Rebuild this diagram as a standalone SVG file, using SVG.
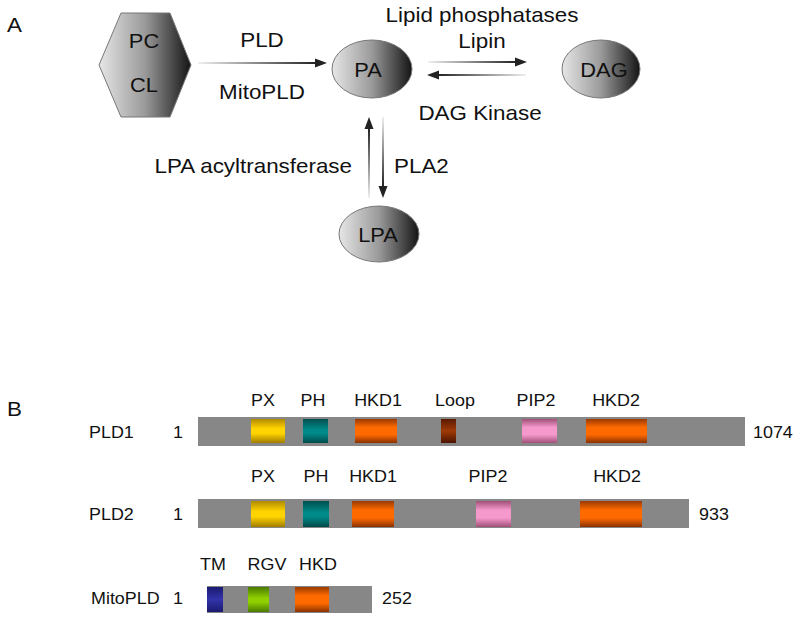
<svg xmlns="http://www.w3.org/2000/svg" width="800" height="620" viewBox="0 0 800 620">
<defs>
<linearGradient id="gShape" x1="0" y1="0" x2="1" y2="0">
<stop offset="0" stop-color="#e6e6e6"/><stop offset="0.5" stop-color="#9a9a9a"/><stop offset="1" stop-color="#141414"/>
</linearGradient>
<linearGradient id="gR" x1="0" y1="0" x2="1" y2="0"><stop offset="0" stop-color="#f0f0f0"/><stop offset="1" stop-color="#222"/></linearGradient>
<linearGradient id="gL" x1="0" y1="0" x2="1" y2="0"><stop offset="0" stop-color="#222"/><stop offset="1" stop-color="#f0f0f0"/></linearGradient>
<linearGradient id="gU" x1="0" y1="0" x2="0" y2="1"><stop offset="0" stop-color="#222"/><stop offset="1" stop-color="#f0f0f0"/></linearGradient>
<linearGradient id="gD" x1="0" y1="0" x2="0" y2="1"><stop offset="0" stop-color="#f0f0f0"/><stop offset="1" stop-color="#222"/></linearGradient>
<linearGradient id="cPX" x1="0" y1="0" x2="0" y2="1"><stop offset="0" stop-color="#b08a00"/><stop offset="0.4" stop-color="#ffd400"/><stop offset="0.6" stop-color="#ffd400"/><stop offset="1" stop-color="#a07c00"/></linearGradient>
<linearGradient id="cPH" x1="0" y1="0" x2="0" y2="1"><stop offset="0" stop-color="#005050"/><stop offset="0.45" stop-color="#008a8a"/><stop offset="0.6" stop-color="#008a8a"/><stop offset="1" stop-color="#004a4a"/></linearGradient>
<linearGradient id="cHKD" x1="0" y1="0" x2="0" y2="1"><stop offset="0" stop-color="#9a3a00"/><stop offset="0.35" stop-color="#ff6a00"/><stop offset="0.65" stop-color="#ff6a00"/><stop offset="1" stop-color="#8a3200"/></linearGradient>
<linearGradient id="cLoop" x1="0" y1="0" x2="0" y2="1"><stop offset="0" stop-color="#5a1a00"/><stop offset="0.5" stop-color="#a03a08"/><stop offset="1" stop-color="#4a1400"/></linearGradient>
<linearGradient id="cPIP" x1="0" y1="0" x2="0" y2="1"><stop offset="0" stop-color="#a05078"/><stop offset="0.35" stop-color="#f599cc"/><stop offset="0.65" stop-color="#f599cc"/><stop offset="1" stop-color="#a05078"/></linearGradient>
<linearGradient id="cTM" x1="0" y1="0" x2="0" y2="1"><stop offset="0" stop-color="#1a1a70"/><stop offset="0.5" stop-color="#3333aa"/><stop offset="1" stop-color="#1a1a70"/></linearGradient>
<linearGradient id="cRGV" x1="0" y1="0" x2="0" y2="1"><stop offset="0" stop-color="#4a7a00"/><stop offset="0.45" stop-color="#8fd000"/><stop offset="0.6" stop-color="#8fd000"/><stop offset="1" stop-color="#4a7a00"/></linearGradient>
</defs>
<style>
text{font-family:"Liberation Sans",Arial,sans-serif;fill:#111}
.big{font-size:20px}
.node{font-size:19.5px;text-anchor:middle}
.top{font-size:20px;text-anchor:middle}
.lbl{font-size:16px;text-anchor:middle}
.row{font-size:16px}
.shape{fill:url(#gShape);stroke:#777;stroke-width:1}
.bar{fill:#878787}
.head{fill:#222}
</style>
<text transform="translate(7 32) scale(1.12 1)" class="big">A</text>
<text transform="translate(7 416) scale(1.12 1)" class="big">B</text>
<g id="PCCL">
<polygon class="shape" points="99,65 121,13 170,13 191,65 170,117 121,117"/>
<text transform="translate(144 48) scale(1.12 1)" class="node">PC</text>
<text transform="translate(144 92) scale(1.12 1)" class="node">CL</text>
</g>
<g id="PA">
<ellipse class="shape" cx="372" cy="69" rx="40" ry="29"/>
<text transform="translate(368 77) scale(1.12 1)" class="node">PA</text>
</g>
<g id="DAG">
<ellipse class="shape" cx="601" cy="69" rx="39" ry="29"/>
<text transform="translate(604 77) scale(1.12 1)" class="node">DAG</text>
</g>
<g id="LPA">
<ellipse class="shape" cx="379" cy="234" rx="40" ry="28"/>
<text transform="translate(378 242) scale(1.12 1)" class="node">LPA</text>
</g>
<g id="connectors">
<rect x="198" y="62" width="118" height="2" fill="url(#gR)"/>
<polygon class="head" points="327,63 315,58.5 315,67.5"/>
<rect x="428" y="61" width="88" height="2" fill="url(#gR)"/>
<polygon class="head" points="527,62 515,57.5 515,66.5"/>
<rect x="438" y="74" width="88" height="2" fill="url(#gL)"/>
<polygon class="head" points="427,75 439,70.5 439,79.5"/>
<rect x="368" y="128" width="2" height="70" fill="url(#gU)"/>
<polygon class="head" points="369,117 364.5,129 373.5,129"/>
<rect x="382" y="117" width="2" height="70" fill="url(#gD)"/>
<polygon class="head" points="383,198 378.5,186 387.5,186"/>
</g>
<g id="enzymes">
<text transform="translate(262 47) scale(1.12 1)" class="top">PLD</text>
<text transform="translate(262 99) scale(1.12 1)" class="top">MitoPLD</text>
<text transform="translate(482 22) scale(1.12 1)" class="top">Lipid phosphatases</text>
<text transform="translate(482 48) scale(1.12 1)" class="top">Lipin</text>
<text transform="translate(480 120) scale(1.12 1)" class="top">DAG Kinase</text>
<text transform="translate(352 173) scale(1.12 1)" class="big" text-anchor="end">LPA acyltransferase</text>
<text transform="translate(394 173) scale(1.12 1)" class="big">PLA2</text>
</g>
<g id="PLD1">
<text transform="translate(89 438) scale(1.12 1)" class="row">PLD1</text>
<text transform="translate(173 438) scale(1.12 1)" class="row">1</text>
<rect class="bar" x="198" y="417" width="547" height="29"/>
<rect x="251" y="419" width="34" height="24" fill="url(#cPX)"/>
<rect x="303" y="419" width="25" height="24" fill="url(#cPH)"/>
<rect x="355" y="419" width="42" height="24" fill="url(#cHKD)"/>
<rect x="441" y="419" width="15" height="24" fill="url(#cLoop)"/>
<rect x="522" y="419" width="35" height="24" fill="url(#cPIP)"/>
<rect x="586" y="419" width="61" height="24" fill="url(#cHKD)"/>
<text transform="translate(263 406) scale(1.12 1)" class="lbl">PX</text>
<text transform="translate(313 406) scale(1.12 1)" class="lbl">PH</text>
<text transform="translate(378 406) scale(1.12 1)" class="lbl">HKD1</text>
<text transform="translate(455 406) scale(1.12 1)" class="lbl">Loop</text>
<text transform="translate(536 406) scale(1.12 1)" class="lbl">PIP2</text>
<text transform="translate(616 406) scale(1.12 1)" class="lbl">HKD2</text>
<text transform="translate(753 438) scale(1.12 1)" class="row">1074</text>
</g>
<g id="PLD2">
<text transform="translate(89 520) scale(1.12 1)" class="row">PLD2</text>
<text transform="translate(173 520) scale(1.12 1)" class="row">1</text>
<rect class="bar" x="198" y="499" width="491" height="29"/>
<rect x="251" y="501" width="34" height="26" fill="url(#cPX)"/>
<rect x="303" y="501" width="26" height="26" fill="url(#cPH)"/>
<rect x="352" y="501" width="42" height="26" fill="url(#cHKD)"/>
<rect x="476" y="501" width="35" height="26" fill="url(#cPIP)"/>
<rect x="580" y="501" width="62" height="26" fill="url(#cHKD)"/>
<text transform="translate(263 482) scale(1.12 1)" class="lbl">PX</text>
<text transform="translate(316 482) scale(1.12 1)" class="lbl">PH</text>
<text transform="translate(373 482) scale(1.12 1)" class="lbl">HKD1</text>
<text transform="translate(488 482) scale(1.12 1)" class="lbl">PIP2</text>
<text transform="translate(617 482) scale(1.12 1)" class="lbl">HKD2</text>
<text transform="translate(699 520) scale(1.12 1)" class="row">933</text>
</g>
<g id="MitoPLD">
<text transform="translate(91 604) scale(1.12 1)" class="row">MitoPLD</text>
<text transform="translate(173 604) scale(1.12 1)" class="row">1</text>
<rect class="bar" x="207" y="586" width="165" height="27"/>
<rect x="207" y="587" width="16" height="25" fill="url(#cTM)"/>
<rect x="248" y="587" width="21" height="25" fill="url(#cRGV)"/>
<rect x="295" y="587" width="34" height="25" fill="url(#cHKD)"/>
<text transform="translate(213 570) scale(1.12 1)" class="lbl">TM</text>
<text transform="translate(267 570) scale(1.12 1)" class="lbl">RGV</text>
<text transform="translate(318 570) scale(1.12 1)" class="lbl">HKD</text>
<text transform="translate(382 604) scale(1.12 1)" class="row">252</text>
</g>
</svg>
